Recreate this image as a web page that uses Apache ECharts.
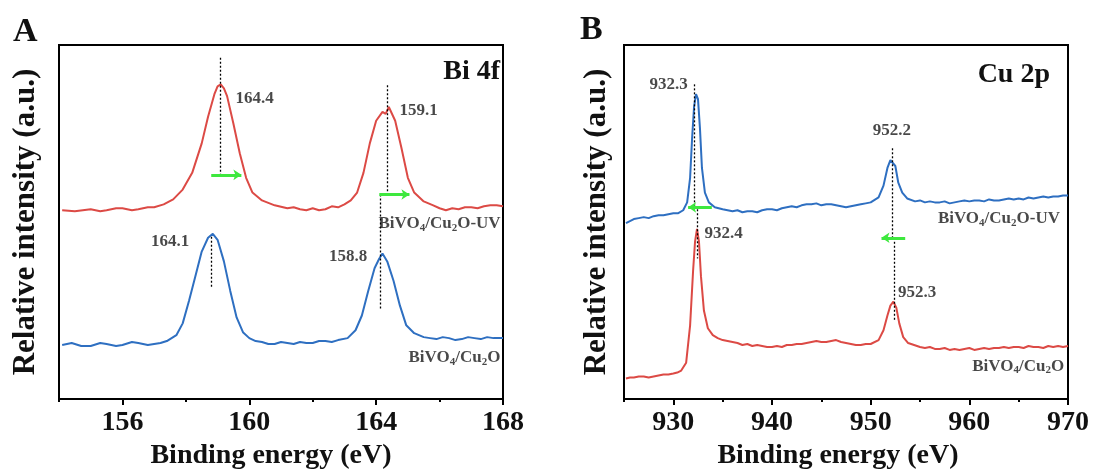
<!DOCTYPE html>
<html>
<head>
<meta charset="utf-8">
<script src="https://cdn.jsdelivr.net/npm/echarts@6/dist/echarts.min.js"></script>
<style>
  html, body { margin: 0; padding: 0; background: #fff; }
  #chart { width: 1096px; height: 475px; }
</style>
</head>
<body>
<div id="chart"></div>
<script>
// ---- Bi 4f panel (A) ----
const biMajorTicks = [156, 160, 164, 168]
const biMinorTicks = [154, 158, 162, 166]
// BiVO4/Cu2O-UV (red)
const biUv = [
  [154.1, 192], [154.5, 191], [155.0, 193], [155.3, 191], [155.5, 192], [155.8, 194], [156.0, 194],
  [156.3, 192], [156.5, 193], [156.8, 195], [157.0, 195], [157.3, 198], [157.6, 203], [157.9, 213],
  [158.2, 230], [158.5, 260], [158.7, 287], [158.9, 310], [159.0, 318], [159.1, 320], [159.2, 316],
  [159.3, 308], [159.5, 280], [159.7, 250], [159.9, 225], [160.1, 210], [160.4, 202], [160.8, 197],
  [161.2, 194], [161.4, 195], [161.6, 193], [161.8, 192], [162.0, 194], [162.2, 192], [162.4, 193],
  [162.6, 196], [162.8, 195], [163.0, 198], [163.2, 202], [163.4, 210], [163.6, 230], [163.8, 260],
  [164.0, 283], [164.2, 292], [164.3, 290], [164.4, 297], [164.6, 283], [164.8, 255], [165.0, 225],
  [165.2, 210], [165.5, 201], [165.8, 197], [166.0, 194], [166.2, 192], [166.4, 194], [166.6, 193],
  [166.8, 195], [167.0, 195], [167.2, 194], [167.4, 196], [167.6, 197], [167.8, 197], [168.0, 196]
]
// BiVO4/Cu2O (blue)
const biRef = [
  [154.1, 55], [154.4, 57], [154.7, 54], [155.0, 54], [155.3, 57], [155.5, 56], [155.8, 54], [156.0, 55],
  [156.3, 58], [156.5, 57], [156.8, 55], [157.0, 56], [157.2, 57], [157.4, 59], [157.7, 65], [157.9, 77],
  [158.1, 100], [158.3, 125], [158.5, 150], [158.7, 164], [158.85, 168], [159.0, 162], [159.2, 140],
  [159.4, 110], [159.6, 83], [159.8, 68], [160.0, 62], [160.2, 59], [160.4, 58], [160.6, 56], [160.8, 56],
  [161.0, 58], [161.2, 57], [161.4, 56], [161.6, 58], [161.8, 57], [162.0, 57], [162.2, 59], [162.4, 59],
  [162.6, 58], [162.8, 60], [163.1, 62], [163.35, 70], [163.55, 85], [163.75, 110], [163.95, 133],
  [164.1, 143], [164.2, 148], [164.35, 140], [164.55, 120], [164.75, 95], [164.95, 75], [165.2, 67],
  [165.5, 63], [165.7, 62], [165.9, 61], [166.1, 63], [166.3, 62], [166.5, 60], [166.7, 61], [166.9, 63],
  [167.1, 62], [167.3, 61], [167.5, 63], [167.7, 62], [168.0, 62]
]
// dotted peak lines: [eV, from, to]
const biPeakLines = [[159.1, 347, 225], [158.8, 165, 113], [164.36, 319, 208], [164.14, 208, 92]]
// shift arrows: [from eV, to eV, level]
const biArrows = [[158.8, 159.75, 228], [164.1, 165.05, 208]]
// text labels: [eV, level, text]
const biLabels = [
  [160.17, 305, '164.4'], [165.34, 293, '159.1'], [157.5, 160, '164.1'], [163.12, 145, '158.8'],
  [166.0, 178, 'BiVO{s|4}/Cu{s|2}O-UV'], [166.47, 42, 'BiVO{s|4}/Cu{s|2}O']
]

// ---- Cu 2p panel (B) ----
const cuMajorTicks = [930, 940, 950, 960, 970]
const cuMinorTicks = [925, 935, 945, 955, 965]
// BiVO4/Cu2O-UV (blue)
const cuUv = [
  [925.2, 179], [925.6, 181], [926, 183], [926.5, 184], [927, 185], [927.5, 184], [928, 186], [928.5, 187],
  [929, 187], [929.5, 188], [930, 189], [930.5, 189], [931.0, 192], [931.4, 200], [931.7, 225], [931.9, 265],
  [932.1, 297], [932.3, 310], [932.5, 305], [932.7, 275], [932.9, 235], [933.2, 210], [933.6, 200],
  [934.2, 195], [935, 193], [935.5, 192], [936, 191], [936.5, 192], [937, 190], [937.5, 191], [938, 191],
  [938.5, 190], [939, 192], [939.5, 193], [940, 193], [940.5, 192], [941, 194], [941.5, 195], [942, 196],
  [942.5, 195], [943, 197], [943.5, 198], [944, 198], [944.5, 199], [945, 197], [945.5, 198], [946, 198],
  [946.5, 197], [947, 196], [947.5, 195], [948, 196], [948.5, 197], [949, 198], [949.5, 199], [950, 200],
  [950.8, 205], [951.3, 217], [951.7, 235], [952.0, 243], [952.2, 245], [952.5, 237], [952.8, 220],
  [953.2, 210], [953.7, 204], [954.5, 201], [955, 202], [955.5, 200], [956, 201], [956.5, 200], [957, 200],
  [957.5, 201], [958, 199], [958.5, 200], [959, 201], [959.5, 202], [960, 201], [960.5, 202], [961, 202],
  [961.5, 201], [962, 203], [962.5, 202], [963, 202], [963.5, 203], [964, 204], [964.5, 203], [965, 204],
  [965.5, 203], [966, 205], [966.5, 204], [967, 205], [967.5, 206], [968, 205], [968.5, 206], [969, 206],
  [969.5, 207], [970, 207]
]
// BiVO4/Cu2O (red)
const cuRef = [
  [925.2, 21], [925.6, 22], [926, 22], [926.5, 23], [927, 23], [927.5, 22], [928, 23], [928.5, 24],
  [929, 25], [929.5, 25], [930, 26], [930.4, 27], [930.8, 29], [931.3, 37], [931.7, 75], [932.0, 130],
  [932.2, 160], [932.4, 173], [932.6, 160], [932.8, 125], [933.1, 90], [933.5, 72], [934, 65], [934.5, 62],
  [935, 60], [935.5, 59], [936, 58], [936.5, 57], [937, 55], [937.5, 56], [938, 54], [938.5, 55], [939, 54],
  [939.5, 53], [940, 53], [940.5, 54], [941, 53], [941.5, 55], [942, 55], [942.5, 56], [943, 56], [943.5, 57],
  [944, 58], [944.5, 59], [945, 58], [945.5, 58], [946, 59], [946.5, 60], [947, 58], [947.5, 57], [948, 56],
  [948.5, 55], [949, 55], [949.5, 56], [950, 56], [950.8, 60], [951.3, 70], [951.7, 85], [952.0, 95],
  [952.3, 99], [952.6, 93], [952.9, 77], [953.3, 63], [953.8, 57], [954.4, 55], [955, 53], [955.5, 52],
  [956, 53], [956.5, 51], [957, 51], [957.5, 52], [958, 50], [958.5, 51], [959, 50], [959.5, 51], [960, 52],
  [960.5, 50], [961, 51], [961.5, 52], [962, 51], [962.5, 52], [963, 52], [963.5, 53], [964, 52], [964.5, 53],
  [965, 53], [965.5, 52], [966, 54], [966.5, 53], [967, 53], [967.5, 52], [968, 54], [968.5, 53], [969, 54],
  [969.5, 53], [970, 54]
]
const cuPeakLines = [[932.16, 320, 193], [932.45, 193, 143], [952.2, 255, 164], [952.4, 164, 80]]
const cuArrows = [[933.9, 931.5, 195], [953.5, 951.1, 164]]
const cuLabels = [
  [929.52, 320, '932.3'], [935.1, 168, '932.4'], [952.16, 273, '952.2'], [954.7, 108, '952.3'],
  [963.0, 183, 'BiVO{s|4}/Cu{s|2}O-UV'], [964.95, 33, 'BiVO{s|4}/Cu{s|2}O']
]

const RED = '#dc4a45'
const BLUE = '#2e6fc1'
const GREEN = '#3ee83e'
const FONT = '"Liberation Serif", "Times New Roman", serif'

function makeXAxes (grid, min, max, major, minor, shift) {
  return [
    {
      gridIndex: grid, type: 'value', min: min, max: max,
      axisLine: { show: true, lineStyle: { color: '#000', width: 2 } },
      axisTick: { show: true, customValues: major, length: 6, lineStyle: { color: '#000', width: 2 } },
      axisLabel: { show: true, customValues: major, margin: 10, color: '#111', fontFamily: FONT, fontWeight: 'bold', fontSize: 28 },
      splitLine: { show: false },
      name: 'Binding energy (eV)', nameLocation: 'middle', nameGap: 38,
      nameTextStyle: { color: '#111', fontFamily: FONT, fontWeight: 'bold', fontSize: 28, padding: [0, shift, 0, 0] }
    },
    {
      gridIndex: grid, type: 'value', min: min, max: max, position: 'bottom',
      axisLine: { show: false },
      axisTick: { show: true, customValues: minor, length: 3, lineStyle: { color: '#000', width: 2 } },
      axisLabel: { show: false },
      splitLine: { show: false }
    }
  ]
}

function makeYAxis (grid, gap) {
  return {
    gridIndex: grid, type: 'value', min: 0, max: 360,
    axisLine: { show: false }, axisTick: { show: false }, axisLabel: { show: false }, splitLine: { show: false },
    name: 'Relative intensity (a.u.)', nameLocation: 'middle', nameGap: gap, nameRotate: 90,
    nameTextStyle: { color: '#111', fontFamily: FONT, fontWeight: 'bold', fontSize: 31 }
  }
}

function curve (data, color, xi, yi, lines) {
  return {
    type: 'line', data: data, xAxisIndex: xi, yAxisIndex: yi, showSymbol: false, silent: true,
    lineStyle: { color: color, width: 2 }, itemStyle: { color: color },
    markLine: lines ? {
      silent: true, symbol: ['none', 'none'], label: { show: false },
      lineStyle: { color: '#000', width: 1.3, type: [2, 2] },
      data: lines.map(l => [{ coord: [l[0], l[1]] }, { coord: [l[0], l[2]] }])
    } : undefined
  }
}

function arrowSeries (arrows, xi, yi) {
  return {
    type: 'line', data: [], xAxisIndex: xi, yAxisIndex: yi, silent: true,
    markLine: {
      silent: true, symbol: ['none', 'arrow'], symbolSize: [8, 8], label: { show: false },
      lineStyle: { color: GREEN, width: 3, type: 'solid' },
      data: arrows.map(a => [{ coord: [a[0], a[2]] }, { coord: [a[1], a[2]] }])
    }
  }
}

function labelSeries (labels, xi, yi) {
  return {
    type: 'scatter', xAxisIndex: xi, yAxisIndex: yi, symbolSize: 0, silent: true,
    data: labels.map(l => ({ value: [l[0], l[1]], name: l[2] })),
    label: {
      show: true, position: 'inside', formatter: p => p.name,
      color: '#1a1a1a', fontFamily: FONT, fontWeight: 'bold', fontSize: 17,
      rich: { s: { fontFamily: FONT, fontWeight: 'bold', fontSize: 11, color: '#1a1a1a', verticalAlign: 'bottom', padding: [8, 0, 0, 0] } }
    }
  }
}

let myChart = echarts.init(document.getElementById('chart'))
let option = {
  animation: false,
  backgroundColor: '#fff',
  grid: [
    { left: 59, right: 593, top: 45, bottom: 70, show: true, borderColor: '#000', borderWidth: 2 },
    { left: 624, right: 28, top: 45, bottom: 70, show: true, borderColor: '#000', borderWidth: 2 }
  ],
  xAxis: [].concat(makeXAxes(0, 154, 168, biMajorTicks, biMinorTicks, 20), makeXAxes(1, 925, 970, cuMajorTicks, cuMinorTicks, 16)),
  yAxis: [makeYAxis(0, 18), makeYAxis(1, 12)],
  graphic: [
    { type: 'text', left: 13, top: 15, style: { text: 'A', font: 'bold 34px ' + FONT, fill: '#111' } },
    { type: 'text', left: 580, top: 13, style: { text: 'B', font: 'bold 34px ' + FONT, fill: '#111' } },
    { type: 'text', right: 596, top: 58, style: { text: 'Bi 4f', font: 'bold 28px ' + FONT, fill: '#111' } },
    { type: 'text', right: 46, top: 61, style: { text: 'Cu 2p', font: 'bold 28px ' + FONT, fill: '#111' } }
  ],
  series: [
    curve(biUv, RED, 0, 0, biPeakLines),
    curve(biRef, BLUE, 0, 0),
    arrowSeries(biArrows, 0, 0),
    labelSeries(biLabels, 0, 0),
    curve(cuUv, BLUE, 2, 1, cuPeakLines),
    curve(cuRef, RED, 2, 1),
    arrowSeries(cuArrows, 2, 1),
    labelSeries(cuLabels, 2, 1)
  ]
}
myChart.setOption(option, true)
</script>
</body>
</html>
